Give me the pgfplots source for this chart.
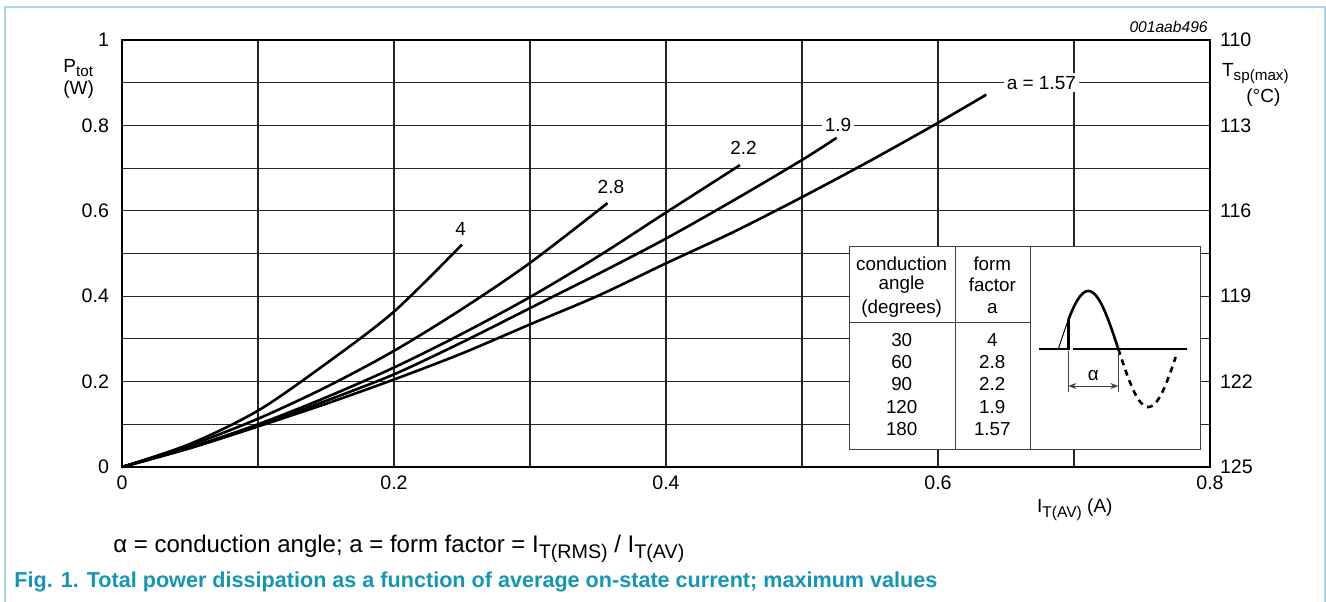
\documentclass[border=0pt]{standalone}
\usepackage{pgfplots}
\pgfplotsset{compat=1.18}
\usepackage{graphicx}
\usepackage{fontspec}
\setmainfont{Liberation Sans}
\usetikzlibrary{arrows.meta}
\definecolor{capcol}{HTML}{1496B4}
\definecolor{framecol}{HTML}{A6D9E3}
\newcommand\sub[1]{\raisebox{-0.28em}{\scalebox{0.82}{#1}}}
\newcommand\subs[1]{\raisebox{-0.2em}{\scalebox{0.8}{#1}}}
\begin{document}
\begin{tikzpicture}
\path[use as bounding box] (0,0) rectangle (663pt,300.5pt);
\begin{axis}[at={(61pt,67pt)}, anchor=south west, scale only axis,
  width=544pt, height=213.5pt,
  xmin=0, xmax=0.8, ymin=0, ymax=1,
  xtick={0,0.2,0.4,0.6,0.8}, xticklabels={0,0.2,0.4,0.6,0.8},
  minor xtick={0.1,0.3,0.5,0.7},
  ytick={0,0.2,0.4,0.6,0.8,1}, yticklabels={0,0.2,0.4,0.6,0.8,1},
  minor ytick={0.1,0.3,0.5,0.7,0.9},
  grid=both,
  major grid style={black!85, line width=0.55pt},
  minor grid style={black!85, line width=0.55pt},
  axis line style={black, line width=0.7pt},
  tick style={draw=none},
  ticklabel style={font=\fontsize{9.8}{11}\selectfont},
  /pgf/number format/assume math mode=true,
  xticklabel style={yshift=-1pt},
  yticklabel style={xshift=-3pt},
  clip=false]
\addplot[black, line width=1.3pt, smooth] coordinates {
 (0,0) (0.05,0.054) (0.1,0.132) (0.15,0.242) (0.2,0.364) (0.25,0.521)};
\addplot[black, line width=1.3pt, smooth] coordinates {
 (0,0) (0.05,0.051) (0.1,0.113) (0.15,0.187) (0.2,0.272) (0.25,0.370) (0.3,0.478) (0.357,0.618)};
\addplot[black, line width=1.3pt, smooth] coordinates {
 (0,0) (0.05,0.046) (0.1,0.100) (0.15,0.163) (0.2,0.233) (0.25,0.312) (0.3,0.398) (0.35,0.493) (0.4,0.596) (0.4544,0.707)};
\addplot[black, line width=1.3pt, smooth] coordinates {
 (0,0) (0.05,0.044) (0.1,0.096) (0.15,0.155) (0.2,0.217) (0.25,0.292) (0.3,0.372) (0.35,0.452) (0.4,0.535) (0.45,0.625) (0.5,0.719) (0.5255,0.771)};
\addplot[black, line width=1.3pt, smooth] coordinates {
 (0,0) (0.05,0.045) (0.1,0.095) (0.15,0.148) (0.2,0.205) (0.25,0.266) (0.3,0.334) (0.35,0.401) (0.4,0.477) (0.45,0.551) (0.5,0.632) (0.55,0.717) (0.6,0.806) (0.6355,0.872)};
\node[fill=white, inner sep=1.5pt, font=\fontsize{9.5}{10}\selectfont] at (axis cs:0.676,0.9) {a = 1.57};
\node[fill=white, inner sep=1.5pt, font=\fontsize{9.5}{10}\selectfont] at (axis cs:0.5265,0.802) {1.9};
\node[fill=white, inner sep=1.0pt, font=\fontsize{9.5}{10}\selectfont] at (axis cs:0.457,0.748) {2.2};
\node[fill=white, inner sep=1.0pt, font=\fontsize{9.5}{10}\selectfont] at (axis cs:0.3595,0.656) {2.8};
\node[fill=white, inner sep=1.0pt, font=\fontsize{9.5}{10}\selectfont] at (axis cs:0.249,0.557) {4};
\end{axis}
\begin{axis}[at={(61pt,67pt)}, anchor=south west, scale only axis,
  width=544pt, height=213.5pt,
  xmin=0, xmax=0.8, ymin=110, ymax=125, y dir=reverse,
  axis y line*=right, hide x axis,
  axis line style={draw=none},
  ytick={110,113,116,119,122,125},
  tick style={draw=none},
  ticklabel style={font=\fontsize{9.8}{11}\selectfont},
  yticklabel style={xshift=1.5pt},
  /pgf/number format/assume math mode=true]
\addplot[draw=none] coordinates {(0,110) (0.8,125)};
\end{axis}
\begin{scope}[x=0.5pt, y=-0.5pt, shift={(0pt,300.5pt)}]
% frame
\draw[framecol, line width=1pt] (5,605) -- (5,7) -- (1325,7) -- (1325,605);
% axis titles
\begin{scope}[every node/.style={anchor=base west, inner sep=0pt, font=\fontsize{9.5}{10}\selectfont}]
\node at (63,73) {P\subs{tot}};
\node at (63,95) {(W)};
\node at (1221.7,77) {T\subs{sp(max)}};
\node at (1246,103) {(°C)};
\node at (1036.7,512) {I\sub{T(AV)} (A)};
\end{scope}
\node[anchor=base east, inner sep=0pt, font=\fontsize{7.8}{9}\selectfont\itshape] at (1208,32.7) {001aab496};
% footnote and caption
\node[anchor=base west, inner sep=0pt, font=\fontsize{12}{14}\selectfont] at (113,552) {α = conduction angle; a = form factor = I\sub{T(RMS)} / I\sub{T(AV)}};
\node[anchor=base west, inner sep=0pt, font=\fontsize{10.8}{12}\selectfont\bfseries, text=capcol] at (14,587) {Fig. 1. Total power dissipation as a function of average on-state current; maximum values};
% inset table
\draw[black!75, line width=0.6pt, fill=white] (849.3,246.7) rectangle (1200.7,449.3);
\draw[black!75, line width=0.6pt] (955.7,246.7) -- (955.7,449.3);
\draw[black!75, line width=0.6pt] (1030.7,246.7) -- (1030.7,449.3);
\draw[black!75, line width=0.6pt] (849.3,322.3) -- (1030.7,322.3);
\begin{scope}[every node/.style={font=\fontsize{9.4}{10}\selectfont, inner sep=0pt}]
\node at (901.7,263.3) {conduction};
\node at (901.7,285) {angle};
\node at (901.7,308.3) {(degrees)};
\node at (992.3,263.3) {form};
\node at (992.3,285) {factor};
\node at (992.3,308.3) {a};
\node at (901.7,340) {30};
\node at (901.7,362.3) {60};
\node at (901.7,384.3) {90};
\node at (901.7,406.7) {120};
\node at (901.7,429) {180};
\node at (992.3,340) {4};
\node at (992.3,362.3) {2.8};
\node at (992.3,384.3) {2.2};
\node at (992.3,406.7) {1.9};
\node at (992.3,429) {1.57};
\node at (1093.3,376) {α};
\end{scope}
% waveform
\draw[black, line width=0.5pt] plot[domain=0:30, samples=10, smooth] ({1058.3+\x/3},{349-58*sin(\x)});
\draw[black, line width=1.3pt] (1039.3,349) -- (1068.3,349) -- (1068.3,320);
\draw[black, line width=1.3pt] plot[domain=30:180, samples=40, smooth] ({1058.3+\x/3},{349-58*sin(\x)});
\draw[black, line width=1.3pt, dash pattern=on 3pt off 2.5pt] plot[domain=180:352, samples=40, smooth] ({1058.3+\x/3},{349-58*sin(\x)});
\draw[black, line width=0.6pt] (1073.3,349) -- (1186.7,349);
\draw[black!75, line width=0.5pt] (1068.3,351) -- (1068.3,392);
\draw[black!75, line width=0.5pt] (1118.3,351) -- (1118.3,392);
\draw[black!75, line width=0.5pt, {Stealth[length=4pt]}-{Stealth[length=4pt]}] (1068.3,386) -- (1118.3,386);
\end{scope}
\end{tikzpicture}
\end{document}
